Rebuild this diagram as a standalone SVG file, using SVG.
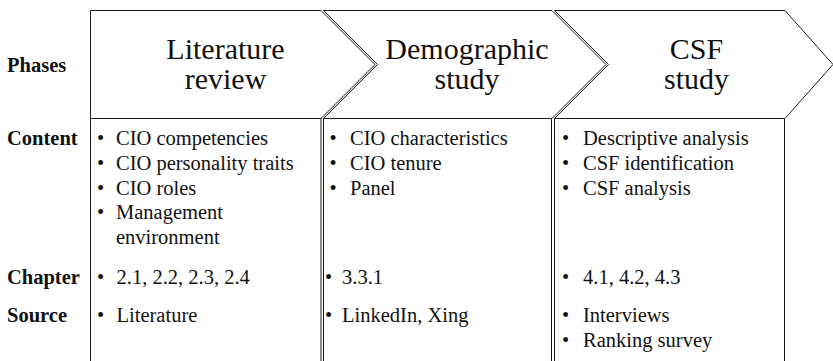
<svg xmlns="http://www.w3.org/2000/svg" width="833" height="361" viewBox="0 0 833 361">
<style>
.shape{fill:#fff;stroke:#1a1a1a;stroke-width:1}
.box{fill:#fff;stroke:#1a1a1a;stroke-width:1}
text{font-family:'Liberation Serif','DejaVu Serif',serif;fill:#111}
.hd{font-size:30px;text-anchor:middle}
.lbl{font-size:20.5px;font-weight:bold}
.tx{font-size:20.5px}
</style>
<rect width="833" height="361" fill="#fff"/>
<g id="row-labels">
<text class="lbl" x="7" y="71.5" font-family="Liberation Serif, serif">Phases</text>
<text class="lbl" x="7" y="144.5" font-family="Liberation Serif, serif">Content</text>
<text class="lbl" x="7" y="283.5" font-family="Liberation Serif, serif">Chapter</text>
<text class="lbl" x="7" y="321.5" font-family="Liberation Serif, serif">Source</text>
</g>
<g id="phase-literature">
<path class="shape" d="M90.5,10.5 H321 L375,64.5 L321,118.5 H90.5 Z"/>
<rect class="box" x="90.5" y="118.5" width="230.5" height="260"/>
<text class="hd" x="225.5" y="58.5">Literature</text>
<text class="hd" x="225.5" y="89">review</text>
<g>
<text class="tx" x="97" y="144.5">•</text><text class="tx" x="116" y="144.5">CIO competencies</text>
<text class="tx" x="97" y="169.5">•</text><text class="tx" x="116" y="169.5">CIO personality traits</text>
<text class="tx" x="97" y="194.5">•</text><text class="tx" x="116" y="194.5">CIO roles</text>
<text class="tx" x="97" y="219">•</text><text class="tx" x="116" y="219">Management</text>
<text class="tx" x="116" y="243.5">environment</text>
<text class="tx" x="97" y="283.5">•</text><text class="tx" x="116.5" y="283.5">2.1, 2.2, 2.3, 2.4</text>
<text class="tx" x="97" y="321.5">•</text><text class="tx" x="116.5" y="321.5">Literature</text>
</g>
</g>
<g id="phase-demographic">
<path class="shape" d="M323.5,10.5 H552 L606,64.5 L552,118.5 H323.5 L377.5,64.5 Z"/>
<rect class="box" x="323.5" y="118.5" width="228" height="260"/>
<text class="hd" x="467" y="58.5">Demographic</text>
<text class="hd" x="467" y="89">study</text>
<g>
<text class="tx" x="329.5" y="144.5">•</text><text class="tx" x="350" y="144.5">CIO characteristics</text>
<text class="tx" x="329.5" y="169.5">•</text><text class="tx" x="350" y="169.5">CIO tenure</text>
<text class="tx" x="329.5" y="194.5">•</text><text class="tx" x="350" y="194.5">Panel</text>
<text class="tx" x="325" y="283.5">•</text><text class="tx" x="342" y="283.5">3.3.1</text>
<text class="tx" x="325" y="321.5">•</text><text class="tx" x="342" y="321.5">LinkedIn, Xing</text>
</g>
</g>
<g id="phase-csf">
<path class="shape" d="M554.5,10.5 H785 L833,64.5 L785,118.5 H554.5 L608.5,64.5 Z"/>
<rect class="box" x="554.5" y="118.5" width="230" height="260"/>
<text class="hd" x="696.5" y="58.5">CSF</text>
<text class="hd" x="696.5" y="89">study</text>
<g>
<text class="tx" x="562" y="144.5">•</text><text class="tx" x="583" y="144.5">Descriptive analysis</text>
<text class="tx" x="562" y="169.5">•</text><text class="tx" x="583" y="169.5">CSF identification</text>
<text class="tx" x="562" y="194.5">•</text><text class="tx" x="583" y="194.5">CSF analysis</text>
<text class="tx" x="562" y="283.5">•</text><text class="tx" x="583" y="283.5">4.1, 4.2, 4.3</text>
<text class="tx" x="562" y="321.5">•</text><text class="tx" x="583" y="321.5">Interviews</text>
<text class="tx" x="562" y="346.5">•</text><text class="tx" x="583" y="346.5">Ranking survey</text>
</g>
</g>
</svg>
